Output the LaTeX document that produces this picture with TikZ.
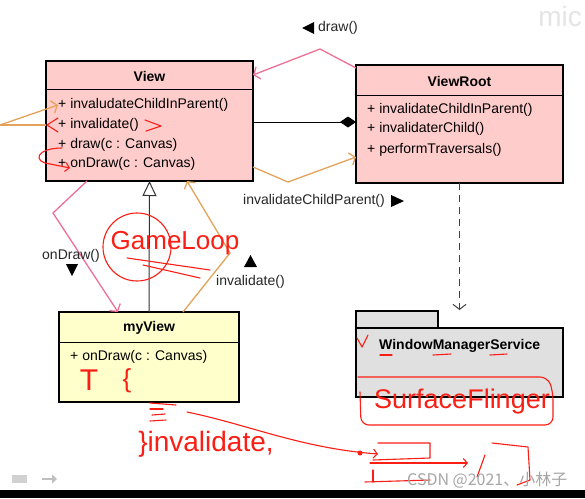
\documentclass[tikz,border=0pt]{standalone}
\usepackage{fontspec}
\setmainfont{Liberation Sans}
\newfontfamily\cjkfont{Noto Sans CJK SC}
\usetikzlibrary{positioning}
\usetikzlibrary{arrows.meta}

\definecolor{viewpink}{RGB}{255,204,204}
\definecolor{myviewyellow}{RGB}{255,255,204}
\definecolor{packagegray}{RGB}{224,224,224}
\definecolor{callpink}{RGB}{238,112,150}
\definecolor{callorange}{RGB}{228,162,90}
\definecolor{penred}{RGB}{250,30,20}

\begin{document}
\begin{tikzpicture}[x = 1pt, y = -1pt,
	font = \fontsize{14}{16}\selectfont,
	classbox/.style = {draw = black, line width = 1.8pt, anchor = north west, inner sep = 0pt, outer sep = 0pt},
	classname/.style = {inner sep = 0pt, font = \fontsize{14}{16}\selectfont\bfseries},
	member/.style = {anchor = west, inner sep = 0pt},
	calllabel/.style = {anchor = west, inner sep = 0pt, text = black!85},
	pinkcall/.style = {callpink, line width = 1.3pt, -{Straight Barb[length = 5pt, width = 13pt]}},
	orangecall/.style = {callorange, line width = 1.3pt, -{Straight Barb[length = 5pt, width = 13pt]}},
	pen/.style = {penred, line width = 1.1pt, line cap = round, line join = round},
	pentext/.style = {text = penred, inner sep = 0pt}
]
	\useasboundingbox (0, 0) rectangle (585, 498);
	\fill[white] (0, 0) rectangle (585, 498);

	% classes
	\node[classbox, fill = viewpink, minimum width = 207pt, minimum height = 120pt] (view) at (46, 61) {};
	\draw (46, 89) -- (253, 89);
	\node[classname] (view-name) at (149.5, 76) {View};
	\node[member] (view-m1) at (58, 105) {+ invaludateChildInParent()};
	\node[member] (view-m2) at (58, 125) {+ invalidate()};
	\node[member] (view-m3) at (58, 145) {+ draw(c : Canvas)};
	\node[member] (view-m4) at (58, 164) {+ onDraw(c : Canvas)};

	\node[classbox, fill = viewpink, minimum width = 207pt, minimum height = 118pt] (viewroot) at (356, 65) {};
	\draw (356, 95) -- (563, 95);
	\node[classname] (viewroot-name) at (459.5, 81) {ViewRoot};
	\node[member] (viewroot-m1) at (367, 110) {+ invalidateChildInParent()};
	\node[member] (viewroot-m2) at (367, 129) {+ invalidaterChild()};
	\node[member] (viewroot-m3) at (367, 150) {+ performTraversals()};

	\node[classbox, fill = myviewyellow, minimum width = 180pt, minimum height = 90pt] (myview) at (59, 312) {};
	\draw (59, 342) -- (239, 342);
	\node[classname] (myview-name) at (149, 328) {myView};
	\node[member] (myview-m1) at (70, 357) {+ onDraw(c : Canvas)};

	\node[classbox, fill = packagegray, line width = 1.5pt, minimum width = 82pt, minimum height = 17pt] (wms-tab) at (356, 311) {};
	\node[classbox, fill = packagegray, line width = 1.5pt, minimum width = 207pt, minimum height = 69pt] (wms) at (356, 328) {};
	\node[classname, anchor = west] (wms-name) at (379, 346) {WindowManagerService};

	% relations
	\draw[line width = 1pt, black!80, -{Triangle[open, fill = white, length = 15pt, width = 14pt]}] (myview.north) -- (view.south);
	\draw[line width = 1pt, -{Diamond[length = 16pt, width = 11pt]}] ([yshift = -1pt]view.east) -- ([yshift = -1pt]view.east -| viewroot.west);
	\draw[black!75, line width = 1pt, dash pattern = on 7pt off 5pt, -{Straight Barb[length = 5pt, width = 13pt]}] (viewroot.south) -- ([yshift = 18pt]wms.north);

	% calls
	\coordinate (draw-bend) at (320, 49);
	\draw[pinkcall] ([yshift = -3pt]viewroot.north west) -- (draw-bend) -- ([yshift = -14pt]view.north east);
	\node[calllabel] (draw-label) at (318, 28) {draw()};
	\fill ([xshift = -4pt]draw-label.west) -- ++(0, -6) -- ++(-12, 6) -- ++(12, 6) -- cycle;

	\coordinate (icp-bend) at (288, 182);
	\draw[orangecall] ([yshift = 14pt]view.south east) -- (icp-bend) -- ([yshift = 26pt]viewroot.south west);
	\node[calllabel] (icp-label) at (243, 201) {invalidateChildParent()};
	\fill ([xshift = 6pt]icp-label.east) -- ++(0, -6) -- ++(13, 6) -- ++(-13, 6) -- cycle;

	\coordinate (ondraw-bend) at (53, 213);
	\draw[pinkcall] ([xshift = 41pt]view.south west) -- (ondraw-bend) -- ([xshift = 59pt]myview.north west);
	\node[calllabel] (ondraw-label) at (42, 256) {onDraw()};
	\fill (66, 264) -- (78, 264) -- (72, 276) -- cycle;

	\coordinate (inv-bend) at (230, 253);
	\draw[orangecall] ([xshift = 124pt]myview.north west) -- (inv-bend) -- ([xshift = 141pt]view.south west);
	\node[calllabel] (inv-label) at (216, 282) {invalidate()};
	\fill (244, 267) -- (257, 267) -- (250.5, 255) -- cycle;

	\coordinate (offpage) at (0, 125);
	\draw[orangecall] (offpage) -- (view-m1.west);
	\draw[callorange, line width = 1.3pt] (offpage) -- (view.west |- view-m2.west);

	% red pen notes
	\draw[pen] (58, 118) -- (47, 125) -- (58, 132);
	\draw[pen] (145, 120) -- (161, 126) -- (146, 131);
	\draw[pen, -{Straight Barb[length = 4pt, width = 9pt]}] (62, 148) .. controls (36, 148) and (32, 162) .. (50, 164) -- (70, 168);

	\draw[pen] (137, 247) circle (34pt);
	\node[pentext, font = \fontsize{26}{26}\selectfont] (gameloop) at (175, 243) {GameLoop};
	\draw[pen] (127, 258) -- (210, 270);
	\draw[pen] (143, 265) -- (200, 278);

	\node[pentext, font = \fontsize{30}{30}\selectfont] (pen-t) at (89, 380) {T};
	\node[pentext, font = \fontsize{26}{26}\selectfont] (pen-brace) at (127, 381) {\{};
	\draw[pen] (150, 403) -- (176, 405);
	\draw[pen] (150, 409) -- (163, 409);
	\draw[pen] (152, 415) -- (165, 414);
	\draw[pen] (150, 421) -- (166, 420);
	\node[pentext, font = \fontsize{28}{28}\selectfont] (pen-invalidate) at (206, 444) {\}invalidate,};

	\coordinate (pen-start) at (187, 412);
	\coordinate (pen-end) at (378, 454);
	\draw[pen, -{Straight Barb[length = 4pt, width = 9pt]}] (pen-start) .. controls (250, 425) and (300, 448) .. (pen-end);
	\fill[penred] (360, 453) circle (2.5pt);
	\draw[pen] (378, 443) -- (430, 443) -- (430, 458) -- (373, 460);
	\draw[pen, -{Straight Barb[length = 4pt, width = 9pt]}] (370, 463) -- (468, 463);
	\draw[pen] (373, 470) -- (373, 482);
	\draw[pen] (365, 482) -- (430, 480);
	\draw[pen] (485, 455) -- (477, 477);
	\draw[pen] (492, 443) -- (528, 447) -- (530, 480) -- (517, 485);

	\draw[pen] (357, 338) -- (362, 347) -- (368, 335);
	\draw[pen] (380, 355) -- (392, 355);
	\draw[pen] (433, 355) -- (451, 354);
	\draw[pen] (490, 355) -- (507, 354);
	\draw[pen, rounded corners = 8pt] (358, 377) -- (548, 377) -- (553, 392) -- (553, 425) -- (361, 425) -- (360, 392);
	\node[pentext, font = \fontsize{27}{27}\selectfont] (surfaceflinger) at (462, 402) {SurfaceFlinger};

	% screen marks
	\node[text = black!10, font = \fontsize{28}{28}\selectfont, anchor = east, inner sep = 0pt] (logo) at (582, 16) {mic};
	\node[text = black!35, font = \cjkfont\fontsize{16}{16}\selectfont, anchor = west, inner sep = 0pt] (watermark) at (407, 480) {CSDN @2021、小林子};
	\fill[black!18] (12, 475) rectangle (27, 483);
	\draw[black!25, line width = 2pt, -{Triangle[length = 5pt, width = 9pt]}] (42, 479) -- (57, 479);
	\fill[black] (0, 490) rectangle (585, 498);
\end{tikzpicture}
\end{document}
